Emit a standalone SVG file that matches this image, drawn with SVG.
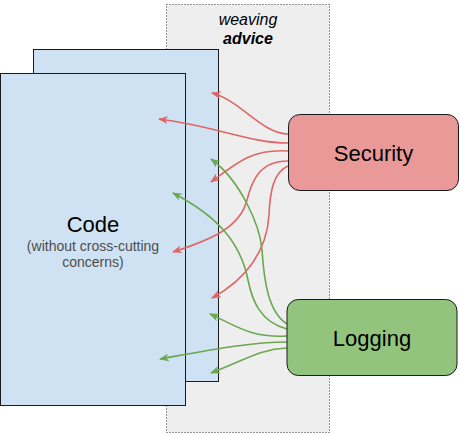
<svg xmlns="http://www.w3.org/2000/svg" width="460" height="434" viewBox="0 0 460 434">
  <style>
    .page { fill: #cfe2f3; stroke: #1a1a1a; stroke-width: 1; }
    .box { stroke: #1a1a1a; stroke-width: 1; }
    .lbl { font-family: "Liberation Sans", Arial, sans-serif; fill: #000; text-anchor: middle; }
    .sub { font-family: "Liberation Sans", Arial, sans-serif; fill: #4d4d4d; text-anchor: middle; font-size: 14px; }
    .red { fill: none; stroke: #e06666; stroke-width: 1.6; marker-end: url(#arrRed); }
    .green { fill: none; stroke: #6aa84f; stroke-width: 1.6; marker-end: url(#arrGreen); }
  </style>
  <defs>
    <marker id="arrRed" viewBox="0 0 10 8" refX="9" refY="4" markerWidth="10" markerHeight="8" markerUnits="userSpaceOnUse" orient="auto">
      <path d="M10,4 L0,0 L3,4 L0,8 Z" fill="#e06666"/>
    </marker>
    <marker id="arrGreen" viewBox="0 0 10 8" refX="9" refY="4" markerWidth="10" markerHeight="8" markerUnits="userSpaceOnUse" orient="auto">
      <path d="M10,4 L0,0 L3,4 L0,8 Z" fill="#6aa84f"/>
    </marker>
  </defs>

  <g id="weaving-advice">
    <rect x="166.5" y="4.5" width="163" height="428" fill="#eeeeee" stroke="#333" stroke-width="1" stroke-dasharray="1 2"/>
    <text class="lbl" x="248" y="25" font-size="16" font-style="italic">weaving</text>
    <text class="lbl" x="248" y="43.5" font-size="16" font-style="italic" font-weight="bold">advice</text>
  </g>

  <g id="code-back">
    <rect class="page" x="33.5" y="49.5" width="185" height="332"/>
  </g>

  <g id="code">
    <rect class="page" x="0.5" y="73.5" width="185" height="332"/>
    <text class="lbl" x="93" y="231.5" font-size="22">Code</text>
    <text class="sub" x="93" y="250.5">(without cross-cutting</text>
    <text class="sub" x="93" y="266.5">concerns)</text>
  </g>

  <g id="connectors">
    <path class="red" d="M288,134 C262,134 240,100 212,93"/>
    <path class="red" d="M288,143 C250,143 215,126 159,119"/>
    <path class="red" d="M288,151 C252,149 238,162 211,182"/>
    <path class="red" d="M288,161 C260,161 252,180 247,200 C240,228 210,240 173,252"/>
    <path class="red" d="M288,166 C274,172 270,190 269,215 C267,250 247,279 212,298"/>
    <path class="green" d="M287,324 C268,312 264,280 262,250 C260,225 240,180 211,159"/>
    <path class="green" d="M287,329 C260,322 252,300 248,280 C240,240 215,215 173,193"/>
    <path class="green" d="M287,336 C250,338 235,325 210,314"/>
    <path class="green" d="M287,342 C250,342 210,350 160,359"/>
    <path class="green" d="M287,348 C260,349 245,360 211,373"/>
  </g>

  <g id="security">
    <rect class="box" x="288.5" y="114.5" width="170" height="76" rx="11.4" fill="#ea9999"/>
    <text class="lbl" x="373.5" y="160.5" font-size="22">Security</text>
  </g>

  <g id="logging">
    <rect class="box" x="287" y="299.5" width="170" height="76" rx="11.4" fill="#93c47d"/>
    <text class="lbl" x="372" y="345.5" font-size="22">Logging</text>
  </g>
</svg>
